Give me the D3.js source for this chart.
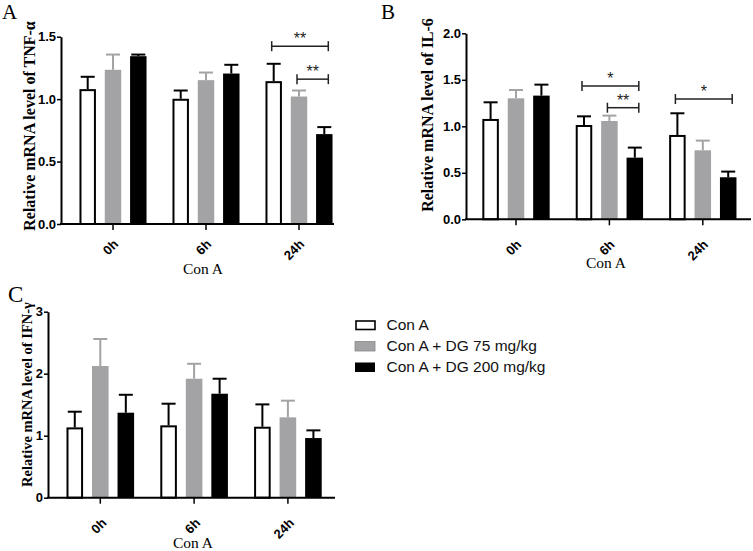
<!DOCTYPE html>
<html>
<head>
<meta charset="utf-8">
<script src="https://cdn.jsdelivr.net/npm/d3@7"></script>
<style>
  html, body { margin: 0; padding: 0; background: #fff; }
  svg { display: block; }
</style>
</head>
<body>
<svg id="chart" width="753" height="551"></svg>
<script>
// ---------- DATA ----------
const groups = ["0h", "6h", "24h"];
const seriesNames = ["Con A", "Con A + DG 75 mg/kg", "Con A + DG 200 mg/kg"];
const xAxisTitle = "Con A";

// TNF-α  (rows = groups, cols = series)
const tnfMean = [[1.08, 1.235, 1.344], [1.003, 1.152, 1.205], [1.144, 1.021, 0.72]];
const tnfSem  = [[0.099, 0.122, 0.013], [0.066, 0.061, 0.07], [0.139, 0.048, 0.056]];
const tnfTicks = [0, 0.5, 1.0, 1.5];
const tnfSig = [
  { group: "24h", from: 0, to: 2, level: 1.424, label: "**" },
  { group: "24h", from: 1, to: 2, level: 1.16, label: "**" }
];

// IL-6
const il6Mean = [[1.079, 1.301, 1.33], [1.014, 1.057, 0.663], [0.907, 0.742, 0.452]];
const il6Sem  = [[0.179, 0.089, 0.118], [0.093, 0.058, 0.108], [0.233, 0.104, 0.061]];
const il6Ticks = [0, 0.5, 1.0, 1.5, 2.0];
const il6Sig = [
  { group: "6h", from: 0, to: 2, level: 1.433, label: "*" },
  { group: "6h", from: 1, to: 2, level: 1.2, label: "**" },
  { group: "24h", from: 0, to: 2, level: 1.293, label: "*" }
];

// IFN-γ
const ifnMean = [[1.134, 2.124, 1.371], [1.167, 1.919, 1.677], [1.145, 1.296, 0.962]];
const ifnSem  = [[0.253, 0.436, 0.289], [0.349, 0.241, 0.242], [0.36, 0.269, 0.124]];
const ifnTicks = [0, 1, 2, 3];
const ifnSig = [];

// ---------- STYLE ----------
const fills = ["#ffffff", "#a3a3a6", "#000000"];
const errColors = ["#000000", "#a3a3a6", "#000000"];
const serif = "'Liberation Serif', 'Times New Roman', serif";
const sans = "'Liberation Sans', Arial, sans-serif";

const svg = d3.select("#chart");
svg.append("rect").attr("width", 753).attr("height", 551).attr("fill", "#fff");

const panels = [
  { letter: "A", lx: 2, ly: 19, lsize: 21, mean: tnfMean, sem: tnfSem, ticks: tnfTicks, fmt: d3.format(".1f"), sig: tnfSig,
    axisL: 61, axisR: 334, first: 113, step: 93, yMax: 1.5, yTop: 36.7, yBot: 224,
    yLabel: "Relative mRNA level of TNF-α", ylx: 35, yly: 126, ylSize: 16,
    xlx: 203, xly: 274, tdx: 6, tdy: 21 },
  { letter: "B", lx: 381, ly: 19, lsize: 21, mean: il6Mean, sem: il6Sem, ticks: il6Ticks, fmt: d3.format(".1f"), sig: il6Sig,
    axisL: 466, axisR: 751, first: 516, step: 93.4, yMax: 2.0, yTop: 33.3, yBot: 219.3,
    yLabel: "Relative mRNA level of IL-6", ylx: 433, yly: 115, ylSize: 16,
    xlx: 606, xly: 268, tdx: 6, tdy: 26 },
  { letter: "C", lx: 8, ly: 302, lsize: 23, mean: ifnMean, sem: ifnSem, ticks: ifnTicks, fmt: d3.format("d"), sig: ifnSig,
    axisL: 48, axisR: 335, first: 100.3, step: 93.8, yMax: 3, yTop: 311.7, yBot: 497.7,
    yLabel: "Relative mRNA level of IFN-γ", ylx: 32, yly: 394.5, ylSize: 14.5,
    xlx: 193, xly: 548, tdx: 7, tdy: 26 }
];

panels.forEach(p => {
  const g = svg.append("g");
  const x = d3.scaleBand().domain(groups)
    .range([p.first - p.step / 2, p.first + 2.5 * p.step]).padding(0);
  const xs = d3.scaleBand().domain(d3.range(seriesNames.length))
    .range([0, x.bandwidth()]).paddingInner(0.35).paddingOuter(0.513);
  const y = d3.scaleLinear().domain([0, p.yMax]).range([p.yBot, p.yTop]);

  const rows = [];
  groups.forEach((grp, gi) => seriesNames.forEach((s, si) => {
    rows.push({ grp, si, mean: p.mean[gi][si], sem: p.sem[gi][si] });
  }));
  const bw = xs.bandwidth();
  const cx = d => x(d.grp) + xs(d.si) + bw / 2;

  // error bars (upper only)
  const eb = g.append("g");
  rows.forEach(d => {
    const c = cx(d), top = y(d.mean + d.sem);
    eb.append("line").attr("x1", c).attr("x2", c).attr("y1", y(d.mean)).attr("y2", top)
      .attr("stroke", errColors[d.si]).attr("stroke-width", 2);
    eb.append("line").attr("x1", c - 7).attr("x2", c + 7).attr("y1", top).attr("y2", top)
      .attr("stroke", errColors[d.si]).attr("stroke-width", 2);
  });

  // bars
  g.append("g").selectAll("rect").data(rows).join("rect")
    .attr("x", d => x(d.grp) + xs(d.si) + (d.si === 0 ? 1 : 0))
    .attr("width", d => d.si === 0 ? bw - 2 : bw)
    .attr("y", d => y(d.mean) + (d.si === 0 ? 1 : 0))
    .attr("height", d => p.yBot - y(d.mean) - (d.si === 0 ? 1 : 0))
    .attr("fill", d => fills[d.si])
    .attr("stroke", d => d.si === 0 ? "#000" : "none")
    .attr("stroke-width", 2);

  // y axis
  const ya = g.append("g").attr("transform", `translate(${p.axisL},0)`)
    .call(d3.axisLeft(y).tickValues(p.ticks).tickFormat(p.fmt).tickSize(4).tickSizeOuter(0).tickPadding(1));
  ya.select(".domain").attr("stroke-width", 2);
  ya.selectAll(".tick line").attr("stroke-width", 1.5);
  ya.selectAll("text").attr("font-family", sans).attr("font-weight", "bold").attr("font-size", 13).attr("fill", "#000");

  // x axis
  const xa = g.append("g").attr("transform", `translate(0,${p.yBot})`)
    .call(d3.axisBottom(x).tickSize(6).tickSizeOuter(0));
  xa.select(".domain").remove();
  xa.selectAll(".tick line").attr("stroke-width", 1.5);
  xa.selectAll("text").attr("y", 0).attr("dy", 0)
    .attr("transform", `translate(${p.tdx},${p.tdy}) rotate(-45)`)
    .style("text-anchor", "end")
    .attr("font-family", sans).attr("font-weight", "bold").attr("font-size", 13).attr("fill", "#000");
  g.append("line").attr("x1", p.axisL - 1).attr("x2", p.axisR).attr("y1", p.yBot).attr("y2", p.yBot)
    .attr("stroke", "#000").attr("stroke-width", 2);

  // significance brackets
  p.sig.forEach(s => {
    const x1 = x(s.group) + xs(s.from) + bw / 2 - 2;
    const x2 = x(s.group) + xs(s.to) + bw / 2 + 4;
    const yy = y(s.level);
    const sg = g.append("g").attr("stroke", "#222").attr("stroke-width", 1.5);
    sg.append("line").attr("x1", x1).attr("x2", x2).attr("y1", yy).attr("y2", yy);
    sg.append("line").attr("x1", x1).attr("x2", x1).attr("y1", yy - 5).attr("y2", yy + 5);
    sg.append("line").attr("x1", x2).attr("x2", x2).attr("y1", yy - 5).attr("y2", yy + 5);
    g.append("text").attr("x", (x1 + x2) / 2).attr("y", yy - 2).attr("text-anchor", "middle")
      .attr("font-family", sans).attr("font-size", 16).attr("fill", "#222").text(s.label);
  });

  // titles
  g.append("text").attr("x", p.lx).attr("y", p.ly).attr("font-family", serif)
    .attr("font-size", p.lsize).attr("fill", "#000").text(p.letter);
  g.append("text").attr("transform", `translate(${p.ylx},${p.yly}) rotate(-90)`)
    .attr("text-anchor", "middle").attr("font-family", serif).attr("font-weight", "bold")
    .attr("font-size", p.ylSize).attr("fill", "#000").text(p.yLabel);
  g.append("text").attr("x", p.xlx).attr("y", p.xly).attr("text-anchor", "middle")
    .attr("font-family", serif).attr("font-size", 15.5).attr("fill", "#000").text(xAxisTitle);
});

// legend
const lg = svg.append("g");
seriesNames.forEach((s, i) => {
  const top = 320.5 + i * 21;
  lg.append("rect").attr("x", i === 0 ? 356 : 355).attr("y", i === 0 ? top + 0.5 : top)
    .attr("width", i === 0 ? 19 : 20).attr("height", i === 0 ? 8.5 : 9.5)
    .attr("fill", fills[i])
    .attr("stroke", i === 0 ? "#000" : (i === 1 ? "#888" : "none"))
    .attr("stroke-width", i === 0 ? 1.6 : 0.8);
  lg.append("text").attr("x", 386.5).attr("y", top + 9.3)
    .attr("font-family", sans).attr("font-size", 15.5).attr("fill", "#111").text(s);
});
</script>
</body>
</html>
